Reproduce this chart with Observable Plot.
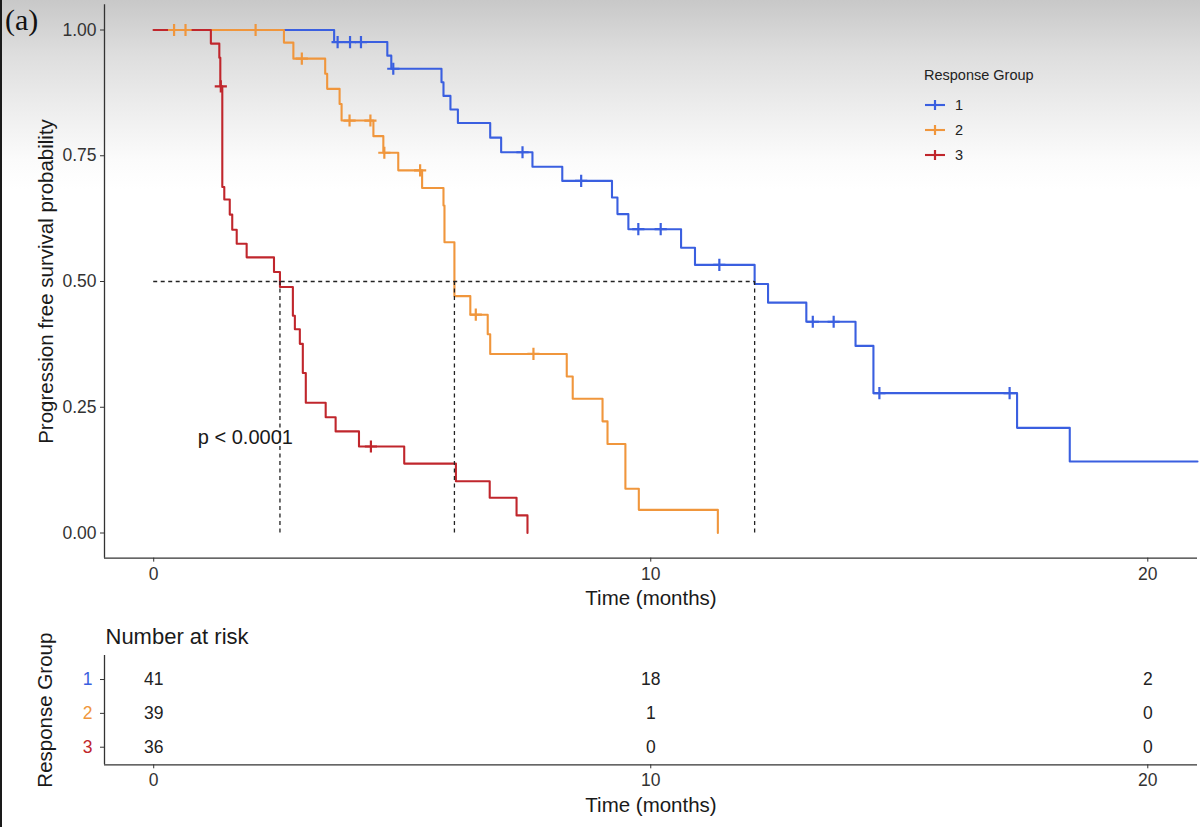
<!DOCTYPE html>
<html>
<head>
<meta charset="utf-8">
<script src="https://cdn.jsdelivr.net/npm/d3@7"></script>
<script src="https://cdn.jsdelivr.net/npm/@observablehq/plot@0.6"></script>
<style>
  html, body { margin: 0; padding: 0; }
  body { width: 1200px; height: 827px; overflow: hidden; background: #fff; font-family: "Liberation Sans", Arial, sans-serif; }
  #page {
    position: relative; width: 1200px; height: 827px;
    background: linear-gradient(to bottom, #c8c8c8 0px, #dedede 55px, #efefef 115px, #fbfbfb 160px, #ffffff 190px);
  }
  #page::before { content: ""; position: absolute; left: 0; top: 0; bottom: 0; width: 2px; background: #1a1a1a; z-index: 5; }
  #km { position: absolute; left: 0; top: 0; }
  #risk { position: absolute; left: 0; top: 615px; }
  #tag { position: absolute; left: 5px; top: 5px; font-family: "Liberation Serif", "DejaVu Serif", serif; font-size: 30px; color: #111; line-height: 1; }
  #legend { position: absolute; left: 924px; top: 65px; font-size: 14.5px; color: #222; }
  #legend .title { height: 20px; line-height: 20px; margin-bottom: 7px; }
  #legend .row { display: flex; align-items: center; height: 25px; }
  #legend .row svg { margin-right: 9px; }
</style>
</head>
<body>
<div id="page">
  <div id="km"></div>
  <div id="risk"></div>
  <div id="tag">(a)</div>
  <div id="legend"></div>
</div>
<script>
// Response groups and their colours
const groups = ["1", "2", "3"];
const groupColors = ["#3a5fe0", "#f0963c", "#c0262c"];

// Kaplan–Meier steps: time (months) at which survival drops, and the new survival value
const group1Times = [0, 3.63, 4.70, 4.78, 5.79, 5.83, 5.97, 6.12, 6.77, 6.99, 7.62, 8.22, 9.22, 9.33, 9.55, 10.61, 10.89, 12.09, 12.36, 13.13, 14.12, 14.48, 17.37, 18.43, 21.0];
const group1Surv  = [1, 0.976, 0.949, 0.923, 0.896, 0.869, 0.842, 0.815, 0.786, 0.757, 0.728, 0.700, 0.667, 0.634, 0.604, 0.567, 0.533, 0.495, 0.458, 0.420, 0.372, 0.278, 0.209, 0.142, 0.142];

const group2Times = [0, 2.62, 2.81, 3.45, 3.49, 3.74, 3.78, 4.42, 4.62, 4.92, 5.40, 5.83, 5.85, 6.05, 6.37, 6.72, 6.77, 8.31, 8.43, 9.03, 9.13, 9.49, 9.76, 11.35];
const group2Surv  = [1, 0.975, 0.943, 0.913, 0.883, 0.853, 0.820, 0.789, 0.756, 0.721, 0.686, 0.651, 0.578, 0.471, 0.434, 0.395, 0.356, 0.311, 0.267, 0.222, 0.177, 0.088, 0.046, 0];

const group3Times = [0, 1.15, 1.32, 1.34, 1.38, 1.42, 1.53, 1.58, 1.67, 1.87, 2.42, 2.54, 2.80, 2.84, 2.94, 3.00, 3.06, 3.46, 3.66, 4.13, 5.04, 6.08, 6.76, 7.30, 7.52];
const group3Surv  = [1, 0.973, 0.945, 0.888, 0.688, 0.663, 0.633, 0.603, 0.575, 0.548, 0.519, 0.489, 0.432, 0.405, 0.376, 0.318, 0.259, 0.230, 0.202, 0.172, 0.138, 0.103, 0.070, 0.035, 0];

// Censoring times (months)
const group1Censor = [3.70, 3.95, 4.17, 4.82, 7.42, 8.60, 9.75, 10.20, 11.38, 13.26, 13.68, 14.60, 17.22];
const group2Censor = [0.41, 0.64, 2.05, 2.98, 3.94, 4.36, 4.64, 5.36, 6.48, 7.64];
const group3Censor = [1.35, 4.37];

// Median survival times (months), groups 1–3
const medianTimes = [12.09, 6.05, 2.54];

// Number at risk
const riskTimes = [0, 10, 20];
const group1Risk = [41, 18, 2];
const group2Risk = [39, 1, 0];
const group3Risk = [36, 0, 0];

const pLabel = "p < 0.0001";
const pPos = {time: 0.887, surv: 0.19};

// ---- build tables ----
const curveTimes = [group1Times, group2Times, group3Times];
const curveSurv = [group1Surv, group2Surv, group3Surv];
const censorTimes = [group1Censor, group2Censor, group3Censor];
const riskCounts = [group1Risk, group2Risk, group3Risk];

const steps = groups.flatMap((g, i) => curveTimes[i].map((t, j) => ({group: g, time: t, surv: curveSurv[i][j]})));

function survAt(times, surv, t) {
  let s = 1;
  for (let j = 0; j < times.length; j++) if (times[j] <= t) s = surv[j];
  return s;
}
const censors = groups.flatMap((g, i) => censorTimes[i].map(t => ({group: g, time: t, surv: survAt(curveTimes[i], curveSurv[i], t)})));

const riskRows = groups.flatMap((g, i) => riskTimes.map((t, j) => ({group: g, row: i + 1, time: t, n: riskCounts[i][j]})));

const font = "Liberation Sans, Arial, sans-serif";
const xDomain = [-0.99, 21.0];
const yDomain = [-0.05, 1.05];
const axisColor = "#333";
const titleColor = "#1a1a1a";

// ---- survival curves ----
const km = Plot.plot({
  width: 1200, height: 615,
  marginLeft: 104, marginRight: 3, marginTop: 4.35, marginBottom: 57.35,
  x: {domain: xDomain},
  y: {domain: yDomain},
  color: {domain: groups, range: groupColors},
  style: {background: "transparent", fontFamily: font, overflow: "visible"},
  marks: [
    Plot.ruleX([xDomain[0]], {y1: yDomain[0], y2: yDomain[1], stroke: axisColor, strokeWidth: 1.3}),
    Plot.ruleY([yDomain[0]], {x1: xDomain[0], x2: xDomain[1], stroke: axisColor, strokeWidth: 1.3}),
    Plot.axisY({ticks: [0, 0.25, 0.5, 0.75, 1], tickFormat: d3.format(".2f"), tickSize: 4, tickPadding: 4,
                fontSize: 17.5, fill: axisColor, stroke: axisColor, label: null}),
    Plot.axisX({ticks: [0, 10, 20], tickSize: 4, tickPadding: 5, fontSize: 17.5, fill: axisColor, stroke: axisColor, label: null}),
    Plot.line(steps, {x: "time", y: "surv", z: "group", stroke: "group", curve: "step-after", strokeWidth: 2.1}),
    Plot.dot(censors, {x: "time", y: "surv", stroke: "group", symbol: "plus", r: 4, strokeWidth: 2.2}),
    Plot.ruleY([0.5], {x1: 0, x2: d3.max(medianTimes), stroke: "#222", strokeWidth: 1.3, strokeDasharray: "4,3.5"}),
    Plot.ruleX(medianTimes, {y1: 0, y2: 0.5, stroke: "#222", strokeWidth: 1.3, strokeDasharray: "4,3.5"}),
    Plot.text([pLabel], {x: pPos.time, y: pPos.surv, text: d => d, textAnchor: "start", fontSize: 20, fill: titleColor}),
    Plot.text(["Progression free survival probability"], {frameAnchor: "left", textAnchor: "middle", lineAnchor: "middle",
                dx: -58, rotate: -90, fontSize: 20.5, fill: titleColor}),
    Plot.text(["Time (months)"], {frameAnchor: "bottom", lineAnchor: "middle", dy: 40.4, fontSize: 20.5, fill: titleColor})
  ]
});
document.getElementById("km").appendChild(km);

// ---- number at risk table ----
const riskY = [3.52, 0.29];
const risk = Plot.plot({
  width: 1200, height: 212,
  marginLeft: 104, marginRight: 3, marginTop: 40, marginBottom: 62.7,
  x: {domain: xDomain},
  y: {domain: riskY},
  color: {domain: groups, range: groupColors},
  style: {background: "transparent", fontFamily: font, overflow: "visible"},
  marks: [
    Plot.ruleX([xDomain[0]], {y1: riskY[0], y2: riskY[1], stroke: axisColor, strokeWidth: 1.3}),
    Plot.ruleY([riskY[0]], {x1: xDomain[0], x2: xDomain[1], stroke: axisColor, strokeWidth: 1.3}),
    Plot.axisX({ticks: [0, 10, 20], tickSize: 4, tickPadding: 5, fontSize: 17.5, fill: axisColor, stroke: axisColor, label: null}),
    Plot.axisY({ticks: [1, 2, 3], tickFormat: () => "", tickSize: 4, stroke: axisColor, label: null}),
    Plot.text(groups, {frameAnchor: "left", y: d => +d, fill: d => d, text: d => d, dx: -12, textAnchor: "end", fontSize: 17.5}),
    Plot.text(riskRows, {x: "time", y: "row", text: "n", fontSize: 17.5, fill: "#222"}),
    Plot.text(["Number at risk"], {frameAnchor: "top-left", lineAnchor: "middle", dx: 1, dy: -19, textAnchor: "start", fontSize: 22, fill: titleColor}),
    Plot.text(["Response Group"], {frameAnchor: "left", textAnchor: "middle", lineAnchor: "middle",
                dx: -59, rotate: -90, fontSize: 20.5, fill: titleColor}),
    Plot.text(["Time (months)"], {frameAnchor: "bottom", lineAnchor: "middle", dy: 40.7, fontSize: 20.5, fill: titleColor})
  ]
});
document.getElementById("risk").appendChild(risk);

// ---- legend ----
const legend = d3.select("#legend");
legend.append("div").attr("class", "title").text("Response Group");
groups.forEach((g, i) => {
  const row = legend.append("div").attr("class", "row");
  const svg = row.append("svg").attr("width", 22).attr("height", 14);
  svg.append("line").attr("x1", 1).attr("x2", 21).attr("y1", 7).attr("y2", 7)
    .attr("stroke", groupColors[i]).attr("stroke-width", 2.1);
  svg.append("line").attr("x1", 11).attr("x2", 11).attr("y1", 2).attr("y2", 12)
    .attr("stroke", groupColors[i]).attr("stroke-width", 2.2);
  row.append("span").text(g);
});
</script>
</body>
</html>
